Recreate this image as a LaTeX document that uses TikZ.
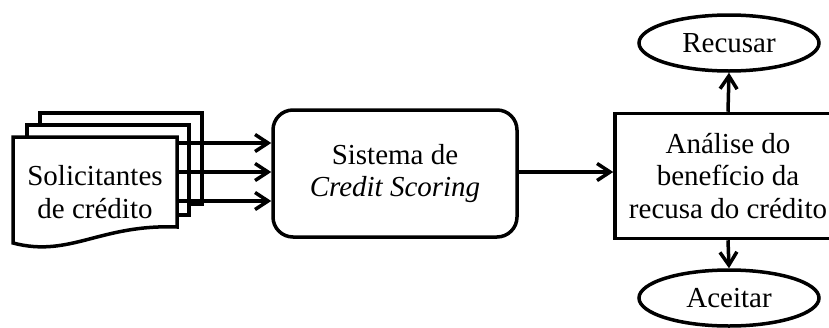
\documentclass[tikz,border=0pt]{standalone}
\usepackage{fontspec}
\setmainfont{Liberation Serif}
\usepackage{tikz}
\usetikzlibrary{positioning}
\usetikzlibrary{%
  calc,%
  arrows.meta,%
  shapes.geometric%
}
\tikzset{
  thick line/.style={line width=1.75pt},
  flow/.style={thick line, -{Straight Barb[length=6.5pt,width=8.5pt,line width=1.75pt]}},
  roundbox/.style={draw, thick line, rounded corners=10pt, align=center,
    minimum width=122pt, minimum height=63.5pt},
  squarebox/.style={draw, thick line, align=center,
    minimum width=113pt, minimum height=62.5pt},
  outcome/.style={draw, thick line, ellipse, inner sep=0pt,
    minimum width=90pt, minimum height=28pt},
  docpage/.style={draw, thick line, fill=white}
}
\begin{document}
\begin{tikzpicture}[x=0.5pt, y=-0.5pt, font=\fontsize{14.5}{16.3}\selectfont]
	\clip (0,0) rectangle (829,327);
	%Stacked documents
	\draw[docpage] (40,113) rectangle (202,204);
	\draw[docpage] (27,125) rectangle (189,215);
	\draw[docpage] (13,137) -- (177,137) -- (177,227)
		.. controls (100,224) and (70,258) .. (13,243) -- cycle;
	%Nodes
	\node[align=center] (solic) at (95,192) {Solicitantes\\de crédito};
	\node[roundbox] (scoring) at (395,173.5) {Sistema de\\\textit{Credit Scoring}};
	\node[squarebox] (analise) at (728,176) {Análise do\\benefício da\\recusa do crédito};
	\node[outcome] (recusar) at (729,43) {Recusar};
	\node[outcome] (aceitar) at (729,298) {Aceitar};
	\coordinate (s1) at (177,143);
	\coordinate (s2) at (177,172);
	\coordinate (s3) at (177,201);
	%Arrows
	\draw[flow] (s1) -- (s1 -| scoring.west);
	\draw[flow] (s2) -- (s2 -| scoring.west);
	\draw[flow] (s3) -- (s3 -| scoring.west);
	\draw[flow] (scoring.east |- s2) -- (s2 -| analise.west);
	\draw[flow] (analise.north) -- (recusar.south);
	\draw[flow] (analise.south) -- (aceitar.north);
\end{tikzpicture}
\end{document}
